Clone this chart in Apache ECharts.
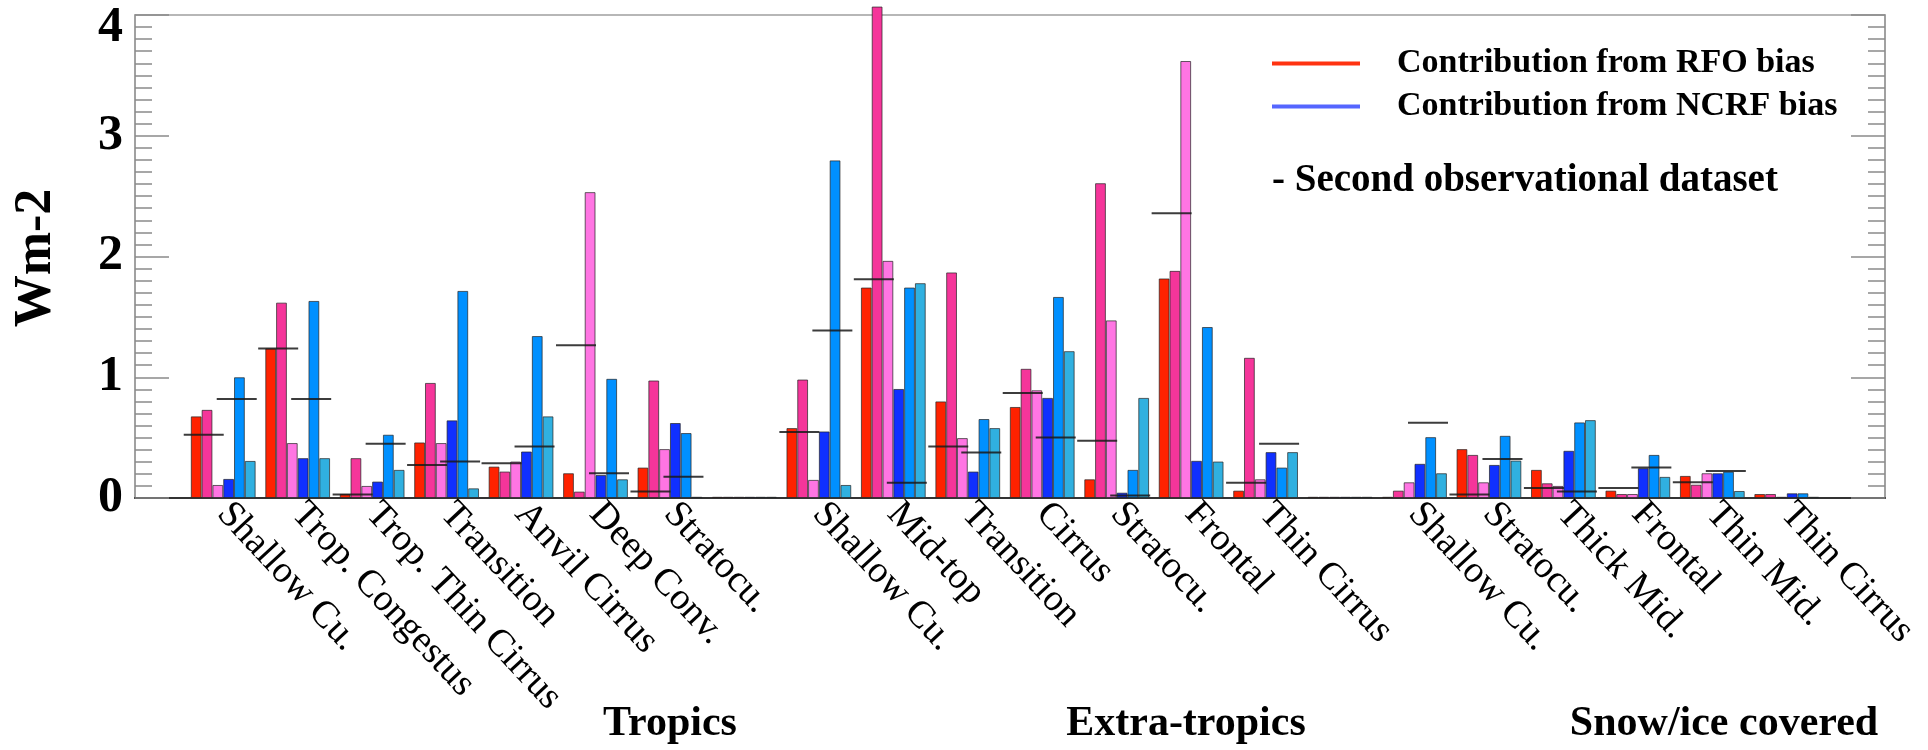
<!DOCTYPE html>
<html>
<head>
<meta charset="utf-8">
<script src="https://cdn.jsdelivr.net/npm/echarts@6/dist/echarts.min.js"></script>
<style>
html,body{margin:0;padding:0;background:#ffffff;}
#chart{width:1928px;height:750px;}
</style>
</head>
<body>
<div id="chart"></div>
<script>
// ---- data ----
const categories = [
  'Shallow Cu.', 'Trop. Congestus', 'Trop. Thin Cirrus', 'Transition', 'Anvil Cirrus', 'Deep Conv.', 'Stratocu.', '',
  'Shallow Cu.', 'Mid-top', 'Transition', 'Cirrus', 'Stratocu.', 'Frontal', 'Thin Cirrus', '',
  'Shallow Cu.', 'Stratocu.', 'Thick Mid.', 'Frontal', 'Thin Mid.', 'Thin Cirrus'
];
const regionNames = ['Tropics', 'Extra-tropics', 'Snow/ice covered'];
const yTicks = [0, 1, 2, 3, 4];

// RFO-bias contributions (three shades of red/pink)
const rfoA = [0.676, 1.239, 0.033, 0.46, 0.26, 0.205, 0.252, 0.01, 0.579, 1.743, 0.80, 0.754, 0.155, 1.818, 0.061, 0.01, 0.01, 0.405, 0.233, 0.061, 0.183, 0.033];
const rfoB = [0.73, 1.618, 0.33, 0.953, 0.219, 0.053, 0.973, 0.01, 0.981, 4.07, 1.868, 1.07, 2.607, 1.881, 1.161, 0.01, 0.061, 0.357, 0.122, 0.033, 0.11, 0.033];
const rfoC = [0.108, 0.455, 0.10, 0.455, 0.302, 2.533, 0.405, 0.01, 0.15, 1.964, 0.496, 0.892, 1.471, 3.619, 0.155, 0.01, 0.13, 0.13, 0.10, 0.033, 0.205, 0.01];
// NCRF-bias contributions (three shades of blue)
const ncrfA = [0.158, 0.33, 0.136, 0.643, 0.385, 0.19, 0.621, 0.01, 0.551, 0.903, 0.219, 0.829, 0.044, 0.308, 0.38, 0.01, 0.283, 0.274, 0.391, 0.247, 0.205, 0.039];
const ncrfB = [1.0, 1.632, 0.524, 1.715, 1.341, 0.987, 0.538, 0.01, 2.796, 1.743, 0.654, 1.665, 0.233, 1.416, 0.252, 0.01, 0.504, 0.515, 0.626, 0.357, 0.218, 0.039];
const ncrfC = [0.307, 0.33, 0.233, 0.08, 0.676, 0.155, 0.01, 0.01, 0.108, 1.779, 0.579, 1.216, 0.829, 0.302, 0.38, 0.01, 0.205, 0.31, 0.645, 0.175, 0.058, 0.01];
// Second observational dataset (black dashes)
const obs2Rfo = [0.524, 1.239, 0.03, 0.274, 0.288, 1.266, 0.053, null, 0.546, 1.812, 0.427, 0.87, 0.474, 2.358, 0.127, null, null, 0.03, 0.083, 0.083, 0.13, null];
const obs2Ncrf = [0.82, 0.82, 0.449, 0.302, 0.427, 0.205, 0.177, null, 1.388, 0.127, 0.377, 0.501, 0.02, null, 0.449, null, 0.623, 0.322, 0.053, 0.253, 0.224, null];

// ---- chart ----
const SERIF = "'Liberation Serif','DejaVu Serif','Times New Roman',serif";
const chart = echarts.init(document.getElementById('chart'), null, {renderer: 'canvas'});

function bar(name, data, color) {
  return {
    type: 'bar', name: name, data: data,
    xAxisIndex: 1, yAxisIndex: 2,
    barWidth: 10.8, barGap: '0%',
    clip: false, silent: true,
    itemStyle: {color: color, borderColor: 'rgba(35,35,35,0.7)', borderWidth: 1}
  };
}
function dash(name, data, offset) {
  return {
    type: 'scatter', name: name, data: data,
    xAxisIndex: 1, yAxisIndex: 2,
    symbol: 'rect', symbolSize: [40, 2], symbolOffset: [offset, 0],
    itemStyle: {color: '#1a1a1a', opacity: 0.85},
    silent: true, z: 5
  };
}

const yAxisCommon = {
  type: 'value', min: 0, max: 4, interval: 1,
  gridIndex: 0,
  splitLine: {show: false},
  axisLine: {show: true, lineStyle: {color: '#9a9a9a', width: 1.5}},
  axisTick: {show: true, inside: true, length: 34, lineStyle: {color: '#8a8a8a', width: 1.5}},
  minorTick: {show: true, splitNumber: 10, length: 17, lineStyle: {color: '#8a8a8a', width: 1.5}},
  minorSplitLine: {show: false}
};

chart.setOption({
  animation: false,
  backgroundColor: '#ffffff',
  grid: [
    {left: 135, right: 43, top: 15, bottom: 252, show: true, borderColor: '#a0a0a0', borderWidth: 1.5, backgroundColor: 'transparent'},
    {left: 186, right: 104, top: 15, bottom: 252}
  ],
  xAxis: [
    {type: 'value', gridIndex: 0, min: 0, max: 1, position: 'bottom',
     axisLine: {show: true, onZero: false, lineStyle: {color: '#333', width: 2}},
     axisTick: {show: false}, axisLabel: {show: false}, splitLine: {show: false}},
    {type: 'category', gridIndex: 1, data: categories, boundaryGap: true,
     axisLine: {show: false}, axisTick: {show: false}, splitLine: {show: false},
     axisLabel: {interval: 0, rotate: -47, margin: 10, hideOverlap: false,
       fontFamily: SERIF, fontSize: 38, color: '#000'}}
  ],
  yAxis: [
    Object.assign({}, yAxisCommon, {
      position: 'left',
      axisLabel: {
        margin: 12, color: '#000', fontFamily: SERIF, fontSize: 50, fontWeight: 'bold',
        formatter: function (v) { return v === yTicks[yTicks.length - 1] ? '{t|' + v + '}' : String(v); },
        rich: {t: {padding: [27, 0, 0, 0], fontFamily: SERIF, fontSize: 50, fontWeight: 'bold', color: '#000'}}
      }
    }),
    Object.assign({}, yAxisCommon, {position: 'right', axisLabel: {show: false}}),
    {type: 'value', gridIndex: 1, min: 0, max: 4, show: false, splitLine: {show: false}}
  ],
  legend: {
    left: 1272, top: 42, orient: 'vertical', padding: 0,
    icon: 'rect', itemWidth: 88, itemHeight: 4, itemGap: 0,
    selectedMode: false,
    textStyle: {fontFamily: SERIF, fontSize: 34, fontWeight: 'bold', color: '#000', lineHeight: 43, padding: [0, 0, 0, 32]},
    data: [
      {name: 'Contribution from RFO bias', itemStyle: {color: '#ff3311', borderWidth: 0}},
      {name: 'Contribution from NCRF bias', itemStyle: {color: '#5566ff', borderWidth: 0}}
    ]
  },
  graphic: [
    {type: 'text', left: 1272, top: 161, silent: true,
     style: {text: '- Second observational dataset', font: 'bold 39px ' + SERIF, fill: '#000'}},
    {type: 'text', x: 37, y: 258, rotation: Math.PI / 2, silent: true,
     style: {text: 'Wm-2', font: 'bold 52px ' + SERIF, fill: '#000', align: 'center', verticalAlign: 'middle'}},
    {type: 'text', x: 670, y: 724, silent: true,
     style: {text: regionNames[0], font: 'bold 42px ' + SERIF, fill: '#000', align: 'center', verticalAlign: 'middle'}},
    {type: 'text', x: 1186, y: 724, silent: true,
     style: {text: regionNames[1], font: 'bold 42px ' + SERIF, fill: '#000', align: 'center', verticalAlign: 'middle'}},
    {type: 'text', x: 1724, y: 724, silent: true,
     style: {text: regionNames[2], font: 'bold 42px ' + SERIF, fill: '#000', align: 'center', verticalAlign: 'middle'}}
  ],
  series: [
    bar('Contribution from RFO bias', rfoA, '#ff2200'),
    bar('RFO bias (2)', rfoB, '#f5359a'),
    bar('RFO bias (3)', rfoC, '#ff75e3'),
    bar('Contribution from NCRF bias', ncrfA, '#1030ff'),
    bar('NCRF bias (2)', ncrfB, '#0090ff'),
    bar('NCRF bias (3)', ncrfC, '#30b0e0'),
    dash('Second obs. (RFO)', obs2Rfo, -19.5),
    dash('Second obs. (NCRF)', obs2Ncrf, 13.5)
  ]
});
</script>
</body>
</html>
